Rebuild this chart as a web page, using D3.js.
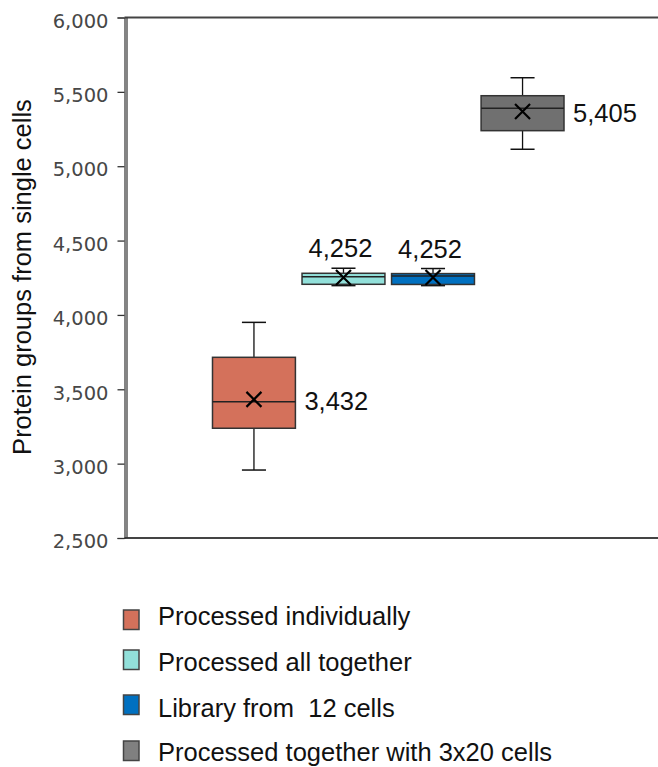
<!DOCTYPE html>
<html>
<head>
<meta charset="utf-8">
<script src="https://cdn.jsdelivr.net/npm/d3@7"></script>
<style>
  body { margin: 0; background: #fff; }
  svg { display: block; }
</style>
</head>
<body>
<div id="chart"></div>
<script>
// data
const categories = ["Processed individually", "Processed all together", "Library from  12 cells", "Processed together with 3x20 cells"];
const whiskerLow = [2957, 4197, 4197, 5114];
const q1 = [3238, 4206, 4205, 5239];
const median = [3416, 4257, 4262, 5389];
const q3 = [3715, 4280, 4278, 5474];
const whiskerHigh = [3950, 4314, 4312, 5595];
const means = [3432, 4252, 4252, 5368];
const meanLabels = ["3,432", "4,252", "4,252", "5,405"];
const yTicks = [2500, 3000, 3500, 4000, 4500, 5000, 5500, 6000];
const colors = ["#D4715B", "#92E0DA", "#0070C0", "#707070"];
const legendColors = ["#D4715B", "#92E0DA", "#0070C0", "#808080"];

const width = 658, height = 767;
const axisX = 124.5, plotTop = 17.5, plotBottom = 538;

const svg = d3.select("#chart").append("svg")
  .attr("width", width)
  .attr("height", height);

const y = d3.scaleLinear().domain([2500, 6000]).range([plotBottom, plotTop]);
const x = d3.scaleBand().domain(categories).range([212.5, 564]).paddingInner(0.074);

// frame: top and bottom lines
svg.append("line").attr("x1", axisX).attr("x2", width).attr("y1", plotTop).attr("y2", plotTop)
  .attr("stroke", "#444").attr("stroke-width", 2);
svg.append("line").attr("x1", axisX).attr("x2", width).attr("y1", plotBottom).attr("y2", plotBottom)
  .attr("stroke", "#444").attr("stroke-width", 2);

// y axis
const yAxis = svg.append("g")
  .attr("transform", `translate(${axisX},0)`)
  .call(d3.axisLeft(y).tickValues(yTicks).tickFormat(d3.format(",")).tickSize(7).tickPadding(9));
yAxis.select(".domain").attr("stroke", "#333").attr("stroke-width", 1.2);
yAxis.selectAll(".tick line").attr("stroke", "#333").attr("stroke-width", 1.3);
yAxis.selectAll(".tick text")
  .attr("fill", "#474747")
  .attr("dy", "0.5em")
  .style("font-family", "'DejaVu Sans', Verdana, sans-serif")
  .style("font-size", "19.5px");
// second line of the double axis
svg.append("line").attr("x1", axisX + 2.5).attr("x2", axisX + 2.5).attr("y1", plotTop).attr("y2", plotBottom)
  .attr("stroke", "#333").attr("stroke-width", 1.2);

// y title
svg.append("text")
  .attr("transform", `translate(31,277) rotate(-90)`)
  .attr("text-anchor", "middle")
  .style("font-family", "'Liberation Sans', Arial, sans-serif")
  .style("font-size", "25.5px")
  .attr("fill", "#111")
  .text("Protein groups from single cells");

// boxes
const idx = d3.range(categories.length);
const g = svg.append("g");
const bw = x.bandwidth();
const capW = bw * 0.29;

idx.forEach(i => {
  const cx = x(categories[i]) + bw / 2;
  const gg = g.append("g");
  // whiskers
  gg.append("line").attr("x1", cx).attr("x2", cx).attr("y1", y(whiskerHigh[i])).attr("y2", y(q3[i]))
    .attr("stroke", "#111").attr("stroke-width", 1.3);
  gg.append("line").attr("x1", cx).attr("x2", cx).attr("y1", y(q1[i])).attr("y2", y(whiskerLow[i]))
    .attr("stroke", "#111").attr("stroke-width", 1.3);
  gg.append("line").attr("x1", cx - capW / 2).attr("x2", cx + capW / 2)
    .attr("y1", y(whiskerHigh[i])).attr("y2", y(whiskerHigh[i]))
    .attr("stroke", "#111").attr("stroke-width", 1.5);
  gg.append("line").attr("x1", cx - capW / 2).attr("x2", cx + capW / 2)
    .attr("y1", y(whiskerLow[i])).attr("y2", y(whiskerLow[i]))
    .attr("stroke", "#111").attr("stroke-width", 1.5);
  // box
  gg.append("rect")
    .attr("x", x(categories[i]))
    .attr("y", y(q3[i]))
    .attr("width", bw)
    .attr("height", y(q1[i]) - y(q3[i]))
    .attr("fill", colors[i])
    .attr("stroke", "#333")
    .attr("stroke-width", 1.5);
  // median
  gg.append("line").attr("x1", x(categories[i])).attr("x2", x(categories[i]) + bw)
    .attr("y1", y(median[i])).attr("y2", y(median[i]))
    .attr("stroke", "#222").attr("stroke-width", 1.5);
  // mean marker
  const my = y(means[i]), s = 7.5;
  gg.append("path")
    .attr("d", `M${cx - s},${my - s}L${cx + s},${my + s}M${cx - s},${my + s}L${cx + s},${my - s}`)
    .attr("stroke", "#000").attr("stroke-width", 2.2).attr("fill", "none");
  // label: right of tall boxes, above flat ones
  const boxH = y(q1[i]) - y(q3[i]);
  const lab = gg.append("text")
    .style("font-family", "'Liberation Sans', Arial, sans-serif")
    .style("font-size", "25.5px")
    .attr("fill", "#111")
    .text(meanLabels[i]);
  if (boxH > 30) {
    lab.attr("x", x(categories[i]) + bw + 9).attr("y", my + 11);
  } else {
    lab.attr("x", cx - 3).attr("y", y(whiskerHigh[i]) - 11).attr("text-anchor", "middle");
  }
});

// legend
const legendSwatchTop = [610, 650, 695, 741];
const legendBaseline = [624.5, 670.5, 716.5, 760.5];
const legend = svg.append("g");
idx.forEach(i => {
  legend.append("rect")
    .attr("x", 123.5).attr("y", legendSwatchTop[i])
    .attr("width", 15.5).attr("height", 19.5)
    .attr("fill", legendColors[i])
    .attr("stroke", "#444").attr("stroke-width", 1.5);
  legend.append("text")
    .attr("x", 158).attr("y", legendBaseline[i])
    .style("font-family", "'Liberation Sans', Arial, sans-serif")
    .style("font-size", "25.5px")
    .style("white-space", "pre")
    .attr("fill", "#111")
    .text(categories[i]);
});
</script>
</body>
</html>
